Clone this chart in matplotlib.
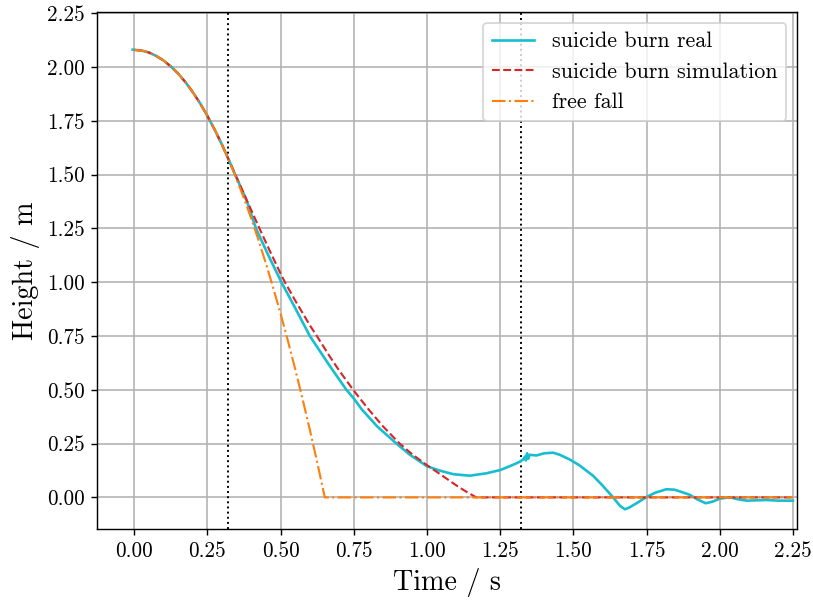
import matplotlib
matplotlib.use("Agg")
import matplotlib.pyplot as plt

# ---- data ----
t_real = [-0.005, 0.025, 0.05, 0.075, 0.10, 0.125, 0.15, 0.175, 0.20, 0.225, 0.25, 0.275,
          0.30, 0.32, 0.35, 0.384, 0.416, 0.46,
          0.503, 0.55, 0.60, 0.668, 0.725, 0.75, 0.777, 0.83, 0.896, 0.94, 0.976, 1.00,
          1.043, 1.09, 1.146, 1.203, 1.252, 1.30, 1.317, 1.33, 1.335, 1.338, 1.342,
          1.346, 1.351, 1.374, 1.40, 1.431, 1.454, 1.488, 1.52, 1.568, 1.60, 1.636,
          1.66, 1.676, 1.69, 1.716, 1.75, 1.78, 1.818, 1.845, 1.864, 1.898, 1.925,
          1.952, 1.975, 2.00, 2.034, 2.06, 2.092, 2.16, 2.20, 2.25]
h_real = [2.081, 2.077, 2.068, 2.052, 2.031, 2.003, 1.970, 1.930, 1.884, 1.832, 1.773, 1.709,
          1.639, 1.578, 1.485, 1.380, 1.250, 1.120,
          1.000, 0.880, 0.750, 0.611, 0.500, 0.460, 0.410, 0.330, 0.250, 0.200, 0.167, 0.145,
          0.125, 0.108, 0.101, 0.112, 0.128, 0.155, 0.166, 0.178, 0.190, 0.172, 0.205,
          0.180, 0.198, 0.195, 0.205, 0.208, 0.198, 0.176, 0.150, 0.100, 0.055, 0.000,
          -0.040, -0.055, -0.048, -0.027, 0.002, 0.022, 0.038, 0.036, 0.028, 0.012, -0.010,
          -0.027, -0.020, -0.006, 0.001, -0.008, -0.015, -0.012, -0.015, -0.015]

t_sim = [0.0, 0.025, 0.05, 0.075, 0.10, 0.125, 0.15, 0.175, 0.20, 0.225, 0.25, 0.275, 0.30,
         0.32, 0.35, 0.384, 0.424, 0.46, 0.50,
         0.515, 0.55, 0.60, 0.624, 0.668, 0.70, 0.748, 0.80, 0.85, 0.907, 0.95, 1.00,
         1.043, 1.08, 1.11, 1.14, 1.169, 2.25]
h_sim = [2.080, 2.077, 2.068, 2.052, 2.031, 2.003, 1.970, 1.930, 1.884, 1.832, 1.773, 1.709, 1.639,
         1.578, 1.486, 1.383, 1.262, 1.155, 1.040,
         1.000, 0.915, 0.800, 0.750, 0.655, 0.590, 0.500, 0.410, 0.330, 0.250, 0.200, 0.150,
         0.110, 0.075, 0.047, 0.022, 0.000, 0.000]

t_ff = [0.0, 0.025, 0.05, 0.075, 0.10, 0.125, 0.15, 0.175, 0.20, 0.225, 0.25, 0.275, 0.30,
        0.325, 0.35, 0.375, 0.40, 0.425, 0.45, 0.475, 0.50, 0.525, 0.55, 0.575, 0.60,
        0.625, 0.651, 2.25]
h_ff = [2.080, 2.077, 2.068, 2.052, 2.031, 2.003, 1.970, 1.930, 1.884, 1.832, 1.773, 1.709, 1.639,
        1.562, 1.479, 1.390, 1.295, 1.194, 1.087, 0.973, 0.854, 0.728, 0.596, 0.458, 0.314,
        0.164, 0.000, 0.000]

burn_markers = [0.32, 1.32]
xticks = [0.00, 0.25, 0.50, 0.75, 1.00, 1.25, 1.50, 1.75, 2.00, 2.25]
yticks = [0.00, 0.25, 0.50, 0.75, 1.00, 1.25, 1.50, 1.75, 2.00, 2.25]

# ---- style ----
plt.rcParams['font.family'] = ['cmr10', 'DejaVu Serif']
plt.rcParams['mathtext.fontset'] = 'cm'
plt.rcParams['axes.formatter.use_mathtext'] = True
plt.rcParams['axes.unicode_minus'] = False

fig = plt.figure(figsize=(813 / 127, 601 / 127), dpi=127)
ax = fig.add_axes([0.1197, 0.119, 0.8606, 0.861])

ax.plot(t_real, h_real, color='#17becf', lw=1.5, label='suicide burn real', zorder=3)
ax.plot(t_sim, h_sim, color='#d62728', lw=1.2, ls=(0, (3.7, 1.6)), label='suicide burn simulation', zorder=4)
ax.plot(t_ff, h_ff, color='#ff7f0e', lw=1.2, ls=(0, (6.4, 1.6, 1.0, 1.6)), label='free fall', zorder=4)
for xm in burn_markers:
    ax.axvline(xm, color='black', ls=':', lw=1.1, zorder=2)

ax.set_xlim(-0.126, 2.264)
ax.set_ylim(-0.149, 2.256)
ax.set_xticks(xticks)
ax.set_yticks(yticks)
ax.set_xticklabels([f"{v:.2f}" for v in xticks])
ax.set_yticklabels([f"{v:.2f}" for v in yticks])
ax.tick_params(labelsize=12)
ax.grid(True, color='#b0b0b0', lw=0.9)
ax.set_axisbelow(True)
ax.set_xlabel('Time / s', fontsize=16)
ax.set_ylabel('Height / m', fontsize=16)
ax.legend(loc='upper right', fontsize=12.5, framealpha=0.8, handlelength=1.9)

fig.savefig('out.png', dpi=127)
